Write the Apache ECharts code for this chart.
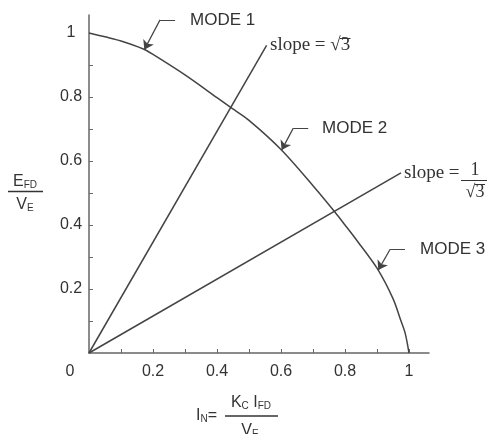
<!DOCTYPE html>
<html>
<head>
<meta charset="utf-8">
<script src="https://cdn.jsdelivr.net/npm/echarts@6/dist/echarts.min.js"></script>
<style>
html,body{margin:0;padding:0;background:#fff;}
#chart{width:490px;height:434px;}
</style>
</head>
<body>
<div id="chart"></div>
<script>
// ---- data ----
var curveX = [0, 0.05, 0.1, 0.17, 0.2, 0.3, 0.4, 0.446, 0.5, 0.6, 0.7, 0.769, 0.8, 0.836, 0.9, 0.95, 0.975, 0.988, 1.0];
var curveY = [1, 0.988, 0.975, 0.95, 0.933, 0.869, 0.798, 0.765, 0.727, 0.636, 0.523, 0.44, 0.40, 0.353, 0.265, 0.17, 0.10, 0.062, 0];
var steepX = [0, 0.555];
var steepY = [0, 0.961];
var shallowX = [0, 0.975];
var shallowY = [0, 0.563];
var tickValues = [0.1, 0.2, 0.3, 0.4, 0.5, 0.6, 0.7, 0.8, 0.9, 1.0];
var xLabelValues = [0, 0.2, 0.4, 0.6, 0.8, 1.0];
var yLabelValues = [0.2, 0.4, 0.6, 0.8, 1.0];
var modeNames = ['MODE 1', 'MODE 2', 'MODE 3'];
// leader lines: horizontal stub, then pointer down to the curve
var leaderStubs = [
  [[0.269, 1.041], [0.222, 1.041]],
  [[0.685, 0.702], [0.638, 0.702]],
  [[0.9875, 0.324], [0.941, 0.324]]
];
var leaderPointers = [
  [[0.222, 1.041], [0.173, 0.948]],
  [[0.638, 0.702], [0.602, 0.634]],
  [[0.941, 0.324], [0.904, 0.259]]
];

function zip(a, b) { return a.map(function (v, i) { return [v, b[i]]; }); }
function fmt(v) { return String(+v.toFixed(1)); }

var LINE = '#444';
var AXIS = '#666';
var TXT = '#333';
var SANS = '"Liberation Sans", Arial, sans-serif';
var SERIF = '"Liberation Serif", "Times New Roman", serif';
var richSub = function (big) {
  return {
    m: { fontSize: big, fontFamily: SANS, fill: TXT, verticalAlign: 'bottom' },
    s: { fontSize: 10, fontFamily: SANS, fill: TXT, verticalAlign: 'bottom' }
  };
};

var chart = echarts.init(document.getElementById('chart'));
chart.setOption({
  animation: false,
  backgroundColor: '#fff',
  grid: { left: 89, right: 61, top: 15, bottom: 81 },
  xAxis: {
    type: 'value', min: 0, max: 1.0625,
    splitLine: { show: false },
    axisLine: { lineStyle: { color: AXIS, width: 1.5 } },
    axisTick: { inside: true, length: 4, customValues: tickValues, lineStyle: { color: AXIS, width: 1 } },
    axisLabel: {
      customValues: xLabelValues, margin: 11, color: TXT, fontFamily: SANS, fontSize: 16,
      formatter: function (v) { return v === 0 ? '{z|0}' : fmt(v); },
      rich: { z: { padding: [0, 38, 0, 0], fontFamily: SANS, fontSize: 16, color: TXT } }
    }
  },
  yAxis: {
    type: 'value', min: 0, max: 1.05625,
    splitLine: { show: false },
    axisLine: { lineStyle: { color: AXIS, width: 1.5 } },
    axisTick: { inside: true, length: 4, customValues: tickValues, lineStyle: { color: AXIS, width: 1 } },
    axisLabel: {
      customValues: yLabelValues, margin: 18, align: 'center', color: TXT, fontFamily: SANS, fontSize: 16,
      formatter: function (v) { return fmt(v); }
    }
  },
  series: [
    { type: 'line', data: zip(curveX, curveY), smooth: 0.3, showSymbol: false,
      lineStyle: { color: LINE, width: 1.5 } },
    { type: 'line', data: zip(steepX, steepY), showSymbol: false,
      lineStyle: { color: LINE, width: 1.5 } },
    { type: 'line', data: zip(shallowX, shallowY), showSymbol: false,
      lineStyle: { color: LINE, width: 1.5 } },
    { type: 'lines', coordinateSystem: 'cartesian2d',
      symbol: ['none', 'none'],
      lineStyle: { color: LINE, width: 1.2, opacity: 1 },
      data: leaderStubs.map(function (c) { return { coords: c }; }) },
    { type: 'lines', coordinateSystem: 'cartesian2d',
      symbol: ['none', 'arrow'], symbolSize: 9,
      lineStyle: { color: LINE, width: 1.2, opacity: 1 },
      itemStyle: { color: '#222' },
      data: leaderPointers.map(function (c) { return { coords: c }; }) }
  ],
  graphic: [
    { type: 'text', left: 190, top: 12, style: { text: modeNames[0], fill: TXT, font: '17px ' + SANS } },
    { type: 'text', left: 322, top: 120, style: { text: modeNames[1], fill: TXT, font: '17px ' + SANS } },
    { type: 'text', left: 420, top: 241, style: { text: modeNames[2], fill: TXT, font: '17px ' + SANS } },
    { type: 'text', left: 270, top: 36, style: { text: 'slope = √3', fill: TXT, font: '19px ' + SERIF } },
    { type: 'line', shape: { x1: 340, y1: 38.5, x2: 350.5, y2: 38.5 }, style: { stroke: TXT, lineWidth: 1 } },
    { type: 'text', left: 404, top: 164, style: { text: 'slope =', fill: TXT, font: '19px ' + SERIF } },
    { type: 'text', x: 475, y: 170, style: { text: '1', fill: TXT, font: '18px ' + SERIF, align: 'center', verticalAlign: 'middle' } },
    { type: 'line', shape: { x1: 461, y1: 180.5, x2: 487, y2: 180.5 }, style: { stroke: TXT, lineWidth: 1 } },
    { type: 'text', x: 475, y: 192, style: { text: '√3', fill: TXT, font: '18px ' + SERIF, align: 'center', verticalAlign: 'middle' } },
    { type: 'line', shape: { x1: 475, y1: 184.5, x2: 485, y2: 184.5 }, style: { stroke: TXT, lineWidth: 1 } },
    // y axis name
    { type: 'text', x: 25, y: 182, style: { text: '{m|E}{s|FD}', align: 'center', verticalAlign: 'middle', rich: richSub(16) } },
    { type: 'line', shape: { x1: 8, y1: 191.5, x2: 43, y2: 191.5 }, style: { stroke: TXT, lineWidth: 1.5 } },
    { type: 'text', x: 25, y: 205, style: { text: '{m|V}{s|E}', align: 'center', verticalAlign: 'middle', rich: richSub(16) } },
    // x axis name
    { type: 'text', x: 196, y: 416, style: { text: '{m|I}{s|N}{m|=}', verticalAlign: 'middle', rich: richSub(16) } },
    { type: 'text', x: 251, y: 403, style: { text: '{m|K}{s|C}{m| I}{s|FD}', align: 'center', verticalAlign: 'middle', rich: richSub(16) } },
    { type: 'line', shape: { x1: 225, y1: 416, x2: 278, y2: 416 }, style: { stroke: TXT, lineWidth: 1.5 } },
    { type: 'text', x: 250, y: 431, style: { text: '{m|V}{s|E}', align: 'center', verticalAlign: 'middle', rich: richSub(16) } }
  ]
});
</script>
</body>
</html>
